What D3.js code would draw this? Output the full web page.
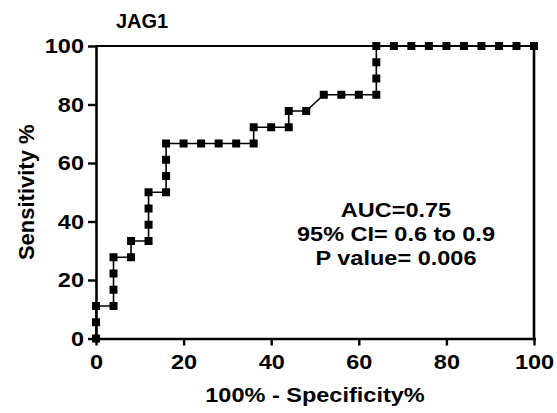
<!DOCTYPE html>
<html>
<head>
<meta charset="utf-8">
<script src="https://cdn.jsdelivr.net/npm/d3@7"></script>
<style>
  body { margin: 0; background: #fff; }
  svg { display: block; }
  text { font-family: "Liberation Sans", Arial, sans-serif; font-weight: bold; fill: #000; }
</style>
</head>
<body>
<svg width="557" height="413"></svg>
<script>
// ROC curve for JAG1: 100% - specificity (x) vs sensitivity (y), in %
const fpr = [0, 0, 0, 4, 4, 4, 4, 8, 8, 12, 12, 12, 12, 16, 16, 16, 16,
  20, 24, 28, 32, 36, 36, 40, 44, 44, 48, 52, 56, 60, 64, 64, 64, 64,
  68, 72, 76, 80, 84, 88, 92, 96, 100]
const sens = [0, 5.56, 11.11, 11.11, 16.67, 22.22, 27.78, 27.78, 33.33, 33.33, 38.89, 44.44, 50, 50, 55.56, 61.11, 66.67,
  66.67, 66.67, 66.67, 66.67, 66.67, 72.22, 72.22, 72.22, 77.78, 77.78, 83.33, 83.33, 83.33, 83.33, 88.89, 94.44, 100,
  100, 100, 100, 100, 100, 100, 100, 100, 100]

const xTicks = [0, 20, 40, 60, 80, 100]
const yTicks = [0, 20, 40, 60, 80, 100]

const title = 'JAG1'
const xTitle = '100% - Specificity%'
const yTitle = 'Sensitivity %'
const statLines = ['AUC=0.75', '95% CI= 0.6 to 0.9', 'P value= 0.006']

const margin = {top: 46, left: 96, right: 23, bottom: 74.5}
const width = 557 - margin.left - margin.right
const height = 413 - margin.top - margin.bottom
const stretch = 1.12   // text in the original is a bit wider than plain Arial

const points = fpr.map((f, i) => ({x: f, y: sens[i]}))

const svg = d3.select('svg')
const g = svg.append('g').attr('transform', `translate(${margin.left},${margin.top})`)

const x = d3.scaleLinear([0, 100], [0, width])
const y = d3.scaleLinear([0, 100], [height, 0])

// frame lines on top and right
g.append('line')
  .attr('x1', x(0)).attr('x2', x(100))
  .attr('y1', y(100)).attr('y2', y(100))
  .attr('stroke', '#000').attr('stroke-width', 2.2)
g.append('line')
  .attr('x1', x(100)).attr('x2', x(100))
  .attr('y1', y(0)).attr('y2', y(100))
  .attr('stroke', '#000').attr('stroke-width', 2.6)

// axes
const xAxis = d3.axisBottom(x).tickValues(xTicks).tickSize(7).tickPadding(9).tickSizeOuter(0)
const yAxis = d3.axisLeft(y).tickValues(yTicks).tickSize(8).tickPadding(4).tickSizeOuter(0)

g.append('g').attr('transform', `translate(0,${height})`).call(xAxis)
  .call(a => a.select('.domain').attr('stroke-width', 2.6).attr('stroke-linecap', 'square'))
  .call(a => a.selectAll('.tick line').attr('stroke-width', 2.4))
  .call(a => a.selectAll('text').style('font-size', '21px').attr('fill', '#000')
    .attr('transform', `scale(${stretch},1)`))

g.append('g').call(yAxis)
  .call(a => a.select('.domain').attr('stroke-width', 2.6).attr('stroke-linecap', 'square'))
  .call(a => a.selectAll('.tick line').attr('stroke-width', 2.4))
  .call(a => a.selectAll('text').style('font-size', '21px').attr('fill', '#000')
    .attr('x', -12 / stretch)
    .attr('transform', `scale(${stretch},1)`))

// curve
const line = d3.line().x(d => x(d.x)).y(d => y(d.y))
g.append('path')
  .datum(points)
  .attr('d', line)
  .attr('fill', 'none')
  .attr('stroke', '#000')
  .attr('stroke-width', 1.6)

const ms = 8
g.selectAll('rect.pt').data(points).enter()
  .append('rect')
    .attr('class', 'pt')
    .attr('x', d => x(d.x) - ms / 2)
    .attr('y', d => y(d.y) - ms / 2)
    .attr('width', ms)
    .attr('height', ms)
    .attr('fill', '#000')

// titles
svg.append('text')
  .attr('x', 116).attr('y', 28)
  .style('font-size', '20px')
  .text(title)

svg.append('text')
  .attr('transform', `translate(${margin.left + width / 2},402) scale(${stretch},1)`)
  .attr('text-anchor', 'middle')
  .style('font-size', '21px')
  .text(xTitle)

svg.append('text')
  .attr('transform', `translate(34,${margin.top + height / 2}) rotate(-90)`)
  .attr('text-anchor', 'middle')
  .style('font-size', '22px')
  .text(yTitle)

// stats annotation
svg.append('g').selectAll('text').data(statLines).enter()
  .append('text')
    .attr('transform', (d, i) => `translate(396,${217 + i * 24}) scale(${stretch},1)`)
    .attr('text-anchor', 'middle')
    .style('font-size', '21px')
    .text(d => d)
</script>
</body>
</html>
